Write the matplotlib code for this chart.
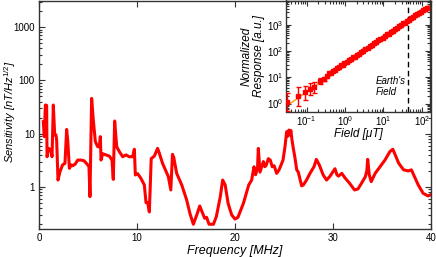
import matplotlib
matplotlib.use('Agg')
import matplotlib.pyplot as plt
import matplotlib.ticker as mticker
import numpy as np

plt.rcParams['font.family'] = ['Liberation Sans', 'DejaVu Sans']
plt.rcParams['mathtext.fontset'] = 'custom'
plt.rcParams['mathtext.rm'] = 'Liberation Sans'
plt.rcParams['mathtext.it'] = 'Liberation Sans:italic'
plt.rcParams['mathtext.bf'] = 'Liberation Sans:bold'

# ---- main spectrum: sensitivity vs frequency ----
freq = [0.44, 0.54, 0.65, 0.78, 0.82, 0.99, 1.22, 1.33, 1.46, 1.60, 1.73, 1.80,
        1.94, 2.14, 2.41, 2.65, 2.82, 2.93, 3.10, 3.30, 3.44, 3.70, 3.95, 4.30,
        4.60, 4.97, 5.10, 5.20, 5.37, 5.54, 5.75, 5.99, 6.16, 6.26, 6.33, 6.50,
        6.84, 7.18, 7.45, 7.58, 7.72, 7.93, 8.20, 8.54, 8.88, 9.20, 9.56, 9.73,
        9.83, 10.07, 10.40, 10.75, 10.92, 11.10, 11.26, 11.45, 11.77, 12.10,
        12.28, 12.60, 12.95, 13.20, 13.45, 13.62, 13.75, 14.05, 14.56, 15.07,
        15.40, 15.75, 16.10, 16.40, 16.70, 16.90, 17.10, 17.35, 17.80, 18.10,
        18.50, 18.74, 19.00, 19.30, 19.66, 20.00, 20.30, 20.85, 21.40, 21.70,
        21.94, 22.10, 22.30, 22.38, 22.55, 22.90, 23.05, 23.20, 23.40, 23.60,
        23.80, 24.00, 24.25, 24.50, 24.90, 25.10, 25.27, 25.40, 25.50, 25.60,
        25.70, 25.80, 25.95, 26.10, 26.30, 26.46, 26.80, 26.97, 27.30, 27.65,
        28.06, 28.30, 28.60, 29.00, 29.35, 29.70, 30.00, 30.20, 30.40, 30.55,
        30.90, 31.20, 31.70, 32.20, 32.55, 32.90, 33.30, 33.45, 33.54, 33.70,
        33.90, 34.30, 34.80, 35.30, 35.80, 36.10, 36.30, 36.70, 37.20, 37.70,
        38.00, 38.40, 38.70, 39.20, 39.70, 40.0]
sens = [16.8, 8.8, 34.5, 34.0, 3.7, 5.3, 4.9, 3.7, 34.5, 9.5, 9.5, 7.6,
        1.35, 1.94, 2.6, 2.78, 12.0, 7.6, 2.24, 2.6, 2.5, 2.7, 3.2, 3.2,
        3.1, 2.6, 2.4, 0.66, 46.0, 18.0, 7.1, 5.7, 5.7, 8.8, 3.2, 4.2,
        4.0, 3.8, 3.2, 1.39, 17.3, 5.7, 4.6, 3.7, 4.0, 3.7, 3.7, 5.1,
        1.68, 1.78, 1.45, 1.09, 0.51, 0.50, 0.34, 3.4, 3.8, 5.3,
        4.3, 2.8, 2.0, 1.56, 0.88, 4.1, 3.6, 1.8, 1.1, 0.57,
        0.32, 0.20, 0.30, 0.44, 0.32, 0.26, 0.27, 0.20, 0.20, 0.28,
        0.66, 1.35, 1.09, 0.49, 0.30, 0.25, 0.27, 0.49, 1.09, 1.35,
        2.4, 1.7, 2.3, 5.3, 1.9, 3.0, 2.4, 2.6, 3.4, 3.2,
        2.4, 2.5, 1.8, 2.1, 3.2, 5.7, 10.9, 9.0, 11.7, 9.5,
        11.5, 8.0, 5.3, 3.7, 2.1, 1.9, 1.05, 1.09, 1.35, 1.8,
        2.4, 3.3, 2.6, 1.68, 1.35, 1.6, 1.94, 2.2, 1.7, 1.6,
        1.8, 1.5, 1.17, 0.88, 0.92, 1.17, 1.56, 2.0, 3.3, 1.7,
        1.26, 1.8, 2.4, 3.2, 4.6, 5.1, 4.2, 2.8, 2.1, 2.0,
        2.1, 1.45, 1.09, 0.76, 0.68, 0.72]

# ---- inset: normalized response vs field ----
low_field = [0.031, 0.060, 0.090, 0.120, 0.155, 0.22, 0.29]
low_resp = [1.12, 2.0, 2.7, 3.6, 4.2, 7.0, 8.7]
low_err_lo = [0.58, 1.2, 1.3, 1.5, 1.6, 1.6, 1.5]
low_err_hi = [1.3, 2.2, 1.9, 2.3, 2.5, 2.0, 1.8]

dense_field = [0.33, 0.38, 0.43, 0.48, 0.55, 0.62, 0.70, 0.78, 0.87, 0.97,
               1.1, 1.25, 1.4, 1.6, 1.8, 2.0, 2.3, 2.6, 3.0, 3.4, 3.9, 4.4,
               5.0, 5.7, 6.5, 7.4, 8.4, 9.5, 11, 12.5, 14, 16, 18, 20, 23,
               26, 29, 33, 37, 42, 47, 53, 60, 68, 77, 87, 98, 110, 125, 140]
dense_resp = [11.0, 14.0, 15.0, 17.5, 19.0, 22.5, 24.5, 29.0, 30.0, 35.0,
              38.0, 45.0, 48.0, 57.0, 61.0, 71.0, 78.0, 92.0, 102, 119, 131, 152,
              168, 196, 215, 255, 278, 325, 362, 428, 460, 545, 590, 680, 745,
              875, 940, 1110, 1190, 1400, 1520, 1760, 1920, 2240, 2450, 2850,
              3100, 3550, 3900, 4450]
dense_err = 0.12

fit_field = [0.029, 170]
fit_resp = [0.78, 5600]

earth_field = 44

fig = plt.figure(figsize=(4.36, 2.57), dpi=100)
W, H = 436, 257

ax = fig.add_axes([39 / W, (H - 229) / H, 392 / W, 228.5 / H])
ax.plot(freq, sens, color='#ff0000', lw=2.2, solid_joinstyle='round')
ax.set_yscale('log')
ax.set_xlim(0, 40)
ax.set_ylim(0.163, 3150)
ax.set_xticks([0, 10, 20, 30, 40])
ax.set_yticks([1, 10, 100, 1000])
ax.yaxis.set_major_formatter(mticker.FixedFormatter(['1', '10', '100', '1000']))
ax.yaxis.set_minor_locator(mticker.LogLocator(base=10, subs=np.arange(2, 10), numticks=20))
ax.yaxis.set_minor_formatter(mticker.NullFormatter())
ax.tick_params(which='both', direction='in', top=True, right=True, labelsize=7,
               color='#333333', width=0.8)
ax.tick_params(which='major', length=4, pad=3)
ax.tick_params(which='minor', length=2.5)
for s in ax.spines.values():
    s.set_color('#333333')
    s.set_linewidth(1.0)
ax.set_xlabel('Frequency [MHz]', style='italic', fontsize=9, labelpad=1)
fig.text(10 / W, 1 - 112 / H, 'Sensitivity [nT/Hz$^{1/2}$]', style='italic', fontsize=8,
         rotation=90, ha='center', va='center')

# inset
ins = fig.add_axes([286 / W, (H - 111.5) / H, 144 / W, 111 / H])
ins.set_xscale('log')
ins.set_yscale('log')
ins.plot(fit_field, fit_resp, color='#ff9900', lw=1.0, zorder=1)
ins.errorbar(low_field, low_resp, yerr=[low_err_lo, low_err_hi], fmt='s',
             color='#ff0000', ms=2.2, elinewidth=1.0, capsize=1.8, capthick=1.0, zorder=3)
d_resp = np.array(dense_resp)
ins.errorbar(dense_field, dense_resp, yerr=d_resp * dense_err, fmt='s',
             color='#ff0000', ms=2.4, elinewidth=1.0, capsize=1.6, capthick=1.0, zorder=3)
ins.axvline(earth_field, color='black', lw=1.0, ls=(0, (4, 2.5)), zorder=2)
ins.text(6.5, 4.6, "Earth's\nField", style='italic', fontsize=7, ha='left', va='center',
         linespacing=1.15)
ins.set_xlim(0.029, 164)
ins.set_ylim(0.5, 8300)
ins.set_xticks([0.1, 1, 10, 100])
ins.set_yticks([1, 10, 100, 1000])
ins.xaxis.set_minor_locator(mticker.LogLocator(base=10, subs=np.arange(2, 10), numticks=20))
ins.yaxis.set_minor_locator(mticker.LogLocator(base=10, subs=np.arange(2, 10), numticks=20))
ins.xaxis.set_minor_formatter(mticker.NullFormatter())
ins.yaxis.set_minor_formatter(mticker.NullFormatter())
ins.tick_params(which='both', direction='in', top=True, right=True, labelsize=7,
                color='#333333', width=0.8)
ins.tick_params(which='major', length=3.5, pad=2)
ins.tick_params(which='minor', length=2)
for s in ins.spines.values():
    s.set_color('#333333')
    s.set_linewidth(1.0)
ins.set_xlabel('Field [\u03bcT]', style='italic', fontsize=8.5, labelpad=0)
ins.set_ylabel('Normalized\nResponse [a.u.]', style='italic', fontsize=8.5,
               labelpad=1, linespacing=1.1)

fig.savefig('out.png', dpi=100)
